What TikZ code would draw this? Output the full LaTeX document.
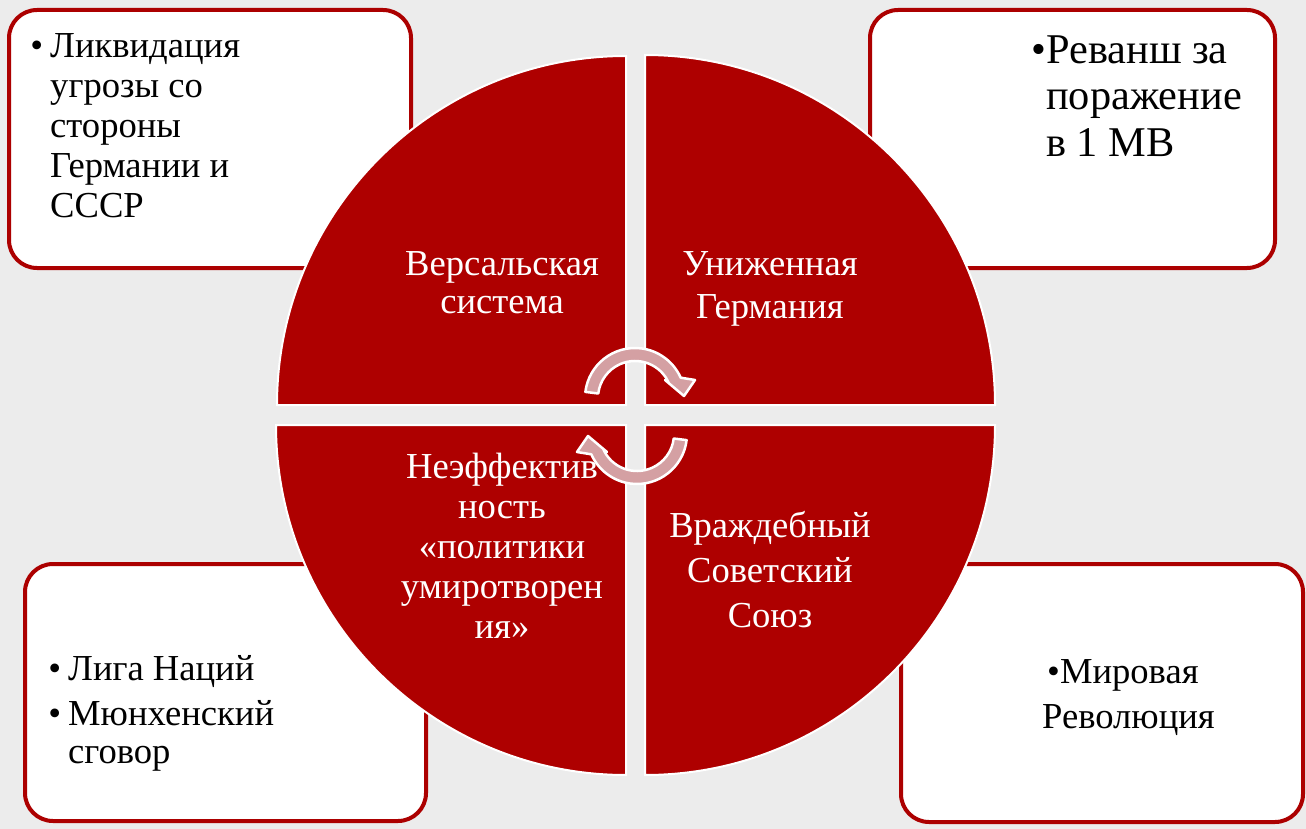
\documentclass[tikz,border=0pt]{standalone}
\usepackage{fontspec}
\setmainfont{Liberation Serif}
\newfontfamily\libserif{Liberation Serif}
\usetikzlibrary{calc}
\definecolor{quadred}{RGB}{174,0,0}
\definecolor{boxred}{RGB}{172,0,0}
\definecolor{bggray}{RGB}{236,236,236}
\definecolor{arrowpink}{RGB}{212,160,163}
\newcommand{\fls}{\rule{0pt}{30pt}}
\begin{document}
\begin{tikzpicture}[x=1pt,y=-1pt,
  infobox/.style={draw=boxred, line width=4pt, fill=white, rounded corners=28pt, inner sep=0pt},
  quadrant/.style={fill=quadred, draw=white, line width=2pt},
  cyclearrow/.style={fill=arrowpink, draw=white, line width=2.5pt, line join=round},
  boxtext/.style={inner sep=0pt, align=left, anchor=north west, text=black},
  quadtext/.style={inner sep=0pt, align=center, anchor=north, text=white},
]
\fill[bggray] (0,0) rectangle (1306,829);
\useasboundingbox (0,0) rectangle (1306,829);

% info boxes
\node[infobox, minimum width=402pt, minimum height=258pt] (boxTL) at (210,139) {};
\node[infobox, minimum width=405pt, minimum height=258pt] (boxTR) at (1072.5,139) {};
\node[infobox, minimum width=401pt, minimum height=257pt] (boxBL) at (225.5,692.5) {};
\node[infobox, minimum width=402pt, minimum height=258pt] (boxBR) at (1102,693) {};

% quadrants
\draw[quadrant] (626,405) -- ++(180:349) arc[start angle=180, end angle=270, radius=349] -- cycle;
\draw[quadrant] (645,405) -- ++(270:350) arc[start angle=270, end angle=360, radius=350] -- cycle;
\draw[quadrant] (645,425) -- ++(0:350) arc[start angle=0, end angle=90, radius=350] -- cycle;
\draw[quadrant] (626,425) -- ++(90:350) arc[start angle=90, end angle=180, radius=350] -- cycle;

% box texts
\node[boxtext, font=\libserif\fontsize{36.6}{40}\selectfont] (tTL) at (50,27)
  {\fls\llap{•\hspace{7pt}}Ликвидация\\угрозы со\\стороны\\Германии и\\СССР};
\node[boxtext, scale=1.158, font=\libserif\fontsize{36.6}{40.15}\selectfont] (tTR) at (1046,28.3)
  {\fls\llap{•}Реванш за\\поражение\\в 1 МВ};
\node[boxtext, font=\libserif\fontsize{36.6}{38}\selectfont] (tBL) at (68,650)
  {\fls\llap{•\hspace{7pt}}Лига Наций\\[7pt]\llap{•\hspace{7pt}}Мюнхенский\\сговор};
\node[boxtext, font=\libserif\fontsize{36.6}{45}\selectfont] (tBR) at (1042,653)
  {\fls\hspace*{5pt}•Мировая\\Революция};

% quadrant texts
\node[quadtext, font=\libserif\fontsize{36.6}{38}\selectfont] (qUL) at (502,245)
  {\fls Версальская\\система};
\node[quadtext, font=\libserif\fontsize{36.6}{43}\selectfont] (qUR) at (770,245)
  {\fls Униженная\\Германия};
\node[quadtext, font=\libserif\fontsize{36.6}{40}\selectfont] (qLL) at (502,448)
  {\fls Неэффектив\\ность\\«политики\\умиротворен\\ия»};
\node[quadtext, font=\libserif\fontsize{36.6}{45}\selectfont] (qLR) at (770,507)
  {\fls Враждебный\\Советский\\Союз};

% cycle arrows
\coordinate (UC) at (635,398);
\coordinate (LC) at (637,434);
\draw[cyclearrow] ($(UC)+(187:37)$) -- ($(UC)+(187:50)$)
  arc[start angle=187, end angle=336, radius=50]
  -- (695,380) -- (684,396) -- (665,380)
  -- ($(UC)+(336:37)$) arc[start angle=336, end angle=187, radius=37] -- cycle;
\draw[cyclearrow] ($(LC)+(7:37)$) -- ($(LC)+(7:50)$)
  arc[start angle=7, end angle=156, radius=50]
  -- (577,452) -- (588,436) -- (607,452)
  -- ($(LC)+(156:37)$) arc[start angle=156, end angle=7, radius=37] -- cycle;
\end{tikzpicture}
\end{document}
